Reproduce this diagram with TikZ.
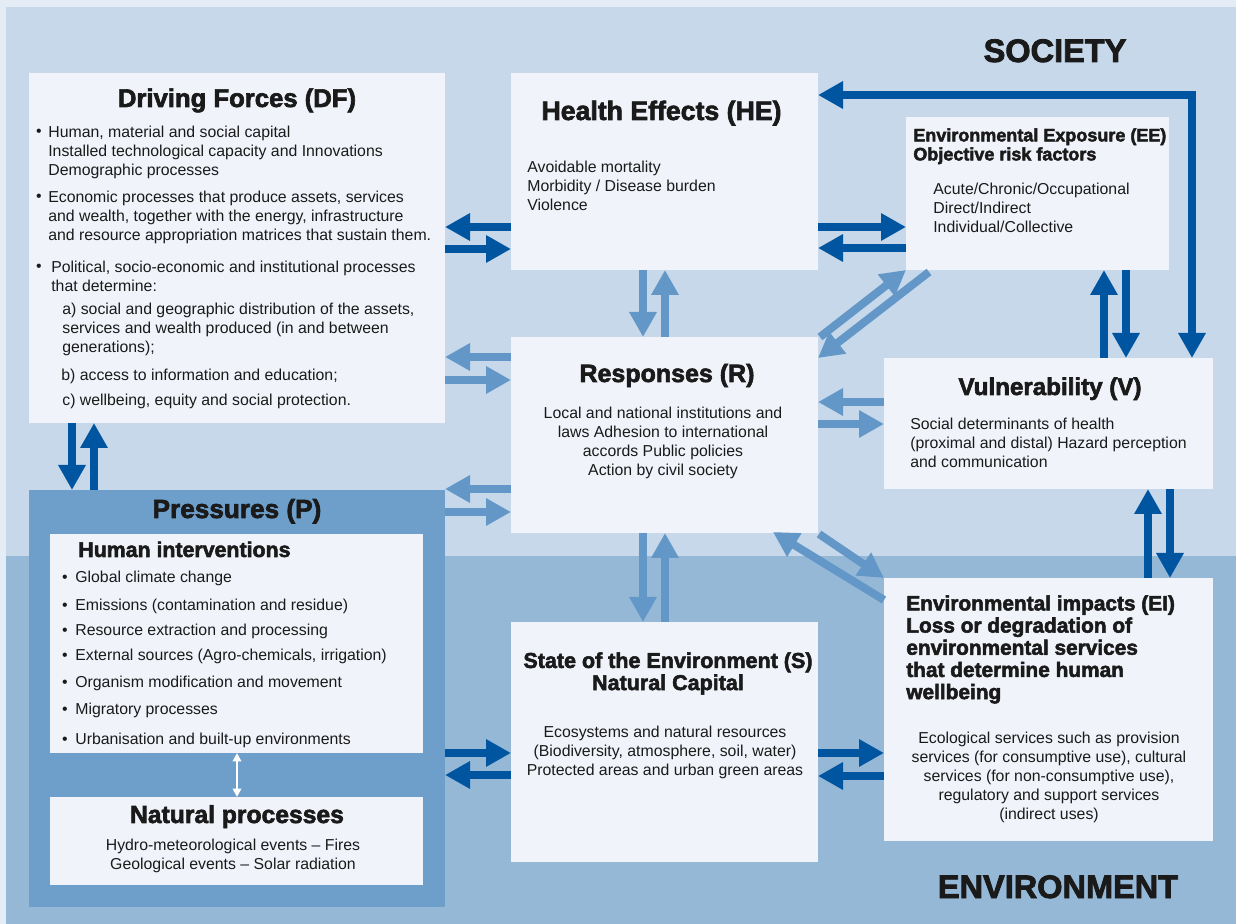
\documentclass[tikz,border=0pt]{standalone}
\usepackage{fontspec}
\setmainfont{Liberation Sans}
\newfontfamily\headfont[FakeBold=2.5]{Liberation Sans Bold}
\usetikzlibrary{arrows.meta,calc}

\definecolor{framebg}{RGB}{228,236,245}
\definecolor{societybg}{RGB}{198,216,234}
\definecolor{environbg}{RGB}{150,184,215}
\definecolor{boxbg}{RGB}{240,244,250}
\definecolor{pressbg}{RGB}{110,159,203}
\definecolor{darkblue}{RGB}{0,85,160}
\definecolor{lightblue}{RGB}{98,151,200}
\definecolor{inkgray}{RGB}{26,26,26}

\begin{document}
\begin{tikzpicture}[%
        x = 0.6pt, y = -0.6pt,
        line cap = butt,
        > = {Triangle[length=15pt, width=15.6pt]},
        box/.style = {fill = boxbg, inner sep = 0pt, outer sep = 0pt},
        banner/.style = {font = \headfont\fontsize{19.5}{22}\selectfont, text = inkgray, inner sep = 0pt},
        heading/.style = {font = \headfont\fontsize{#1}{17}\selectfont, text = inkgray, inner sep = 0pt},
        heading/.default = 14.5,
        subheading/.style = {font = \headfont\fontsize{#1}{13.3}\selectfont, text = inkgray, inner sep = 0pt},
        subheading/.default = 12.5,
        smallheading/.style = {font = \headfont\fontsize{10.8}{11.4}\selectfont, text = inkgray, inner sep = 0pt},
        body/.style = {font = \fontsize{9.5}{11.5}\selectfont, text = inkgray, inner sep = 0pt},
        darkarrow/.style = {draw = darkblue, line width = 4.8pt, ->},
        lightarrow/.style = {draw = lightblue, line width = 4.8pt, ->}
    ]

        % Background: outer frame, society band and environment band.
        \fill[framebg] (0,0) rectangle (1236,924);
        \fill[societybg] (6,7) rectangle (1236,556);
        \fill[environbg] (6,556) rectangle (1236,924);
        \useasboundingbox (0,0) rectangle (1236,924);

        % The boxes.
        \node[box, minimum width = 249.6pt, minimum height = 210pt] (df) at (237,248) {};
        \node[box, minimum width = 184.2pt, minimum height = 118.2pt] (he) at (664.5,171.5) {};
        \node[box, minimum width = 184.2pt, minimum height = 117.6pt] (r) at (664.5,435) {};
        \node[box, minimum width = 184.2pt, minimum height = 144pt] (s) at (664.5,742) {};
        \node[box, minimum width = 157.8pt, minimum height = 91.8pt] (ee) at (1037.5,193.5) {};
        \node[box, minimum width = 197.4pt, minimum height = 78.6pt] (v) at (1048.5,423.5) {};
        \node[box, minimum width = 197.4pt, minimum height = 157.8pt] (ei) at (1048.5,709.5) {};
        \node[box, fill = pressbg, minimum width = 249.6pt, minimum height = 250.2pt] (p) at (237,698.5) {};
        \node[box, minimum width = 223.8pt, minimum height = 131.4pt] (hi) at (236.5,643.5) {};
        \node[box, minimum width = 223.8pt, minimum height = 52.8pt] (np) at (236.5,841) {};

        % Band labels.
        \node[banner, anchor = base] (society) at (1055,62) {SOCIETY};
        \node[banner, anchor = base] (environment) at (1058,898) {ENVIRONMENT};

        % Driving forces.
        \node[heading = 15.4, anchor = base] (dftitle) at (237,107) {Driving Forces (DF)};
        \node[body, anchor = base] (dfdot1) at (39,137) {•};
        \node[body, align = left, anchor = north west] (dftext1) at (48,125.5)
            {Human, material and social capital\\Installed technological capacity and Innovations\\Demographic processes};
        \node[body, anchor = base] (dfdot2) at (39,202) {•};
        \node[body, align = left, anchor = north west] (dftext2) at (48,190.5)
            {Economic processes that produce assets, services\\and wealth, together with the energy, infrastructure\\and resource appropriation matrices that sustain them.};
        \node[body, anchor = base] (dfdot3) at (39,272) {•};
        \node[body, align = left, anchor = north west] (dftext3) at (51,260.5)
            {Political, socio-economic and institutional processes\\that determine:};
        \node[body, align = left, anchor = north west] (dftexta) at (62,302.5)
            {a) social and geographic distribution of the assets,\\services and wealth produced (in and between\\generations);};
        \node[body, anchor = base west] (dftextb) at (61,381) {b) access to information and education;};
        \node[body, anchor = base west] (dftextc) at (62,406) {c) wellbeing, equity and social protection.};

        % Health effects.
        \node[heading = 16, anchor = base] (hetitle) at (661.5,120) {Health Effects (HE)};
        \node[body, align = left, anchor = north west] (hetext) at (527,160.5)
            {Avoidable mortality\\Morbidity / Disease burden\\Violence};

        % Responses.
        \node[heading = 15, anchor = base] (rtitle) at (667,382) {Responses (R)};
        \node[body, align = center, anchor = north] (rtext) at (663,406.5)
            {Local and national institutions and\\laws Adhesion to international\\accords Public policies\\Action by civil society};

        % State of the environment.
        \node[subheading = 12.9, align = center, anchor = north] (stitle) at (668,652)
            {State of the Environment (S)\\Natural Capital};
        \node[body, align = center, anchor = north] (stext) at (665,725.5)
            {Ecosystems and natural resources\\(Biodiversity, atmosphere, soil, water)\\Protected areas and urban green areas};

        % Environmental exposure.
        \node[smallheading, align = left, anchor = north west] (eetitle) at (913,128)
            {Environmental Exposure (EE)\\Objective risk factors};
        \node[body, align = left, anchor = north west] (eetext) at (933,182.5)
            {Acute/Chronic/Occupational\\Direct/Indirect\\Individual/Collective};

        % Vulnerability.
        \node[heading, anchor = base] (vtitle) at (1050,395) {Vulnerability (V)};
        \node[body, align = left, anchor = north west] (vtext) at (910,417.5)
            {Social determinants of health\\(proximal and distal) Hazard perception\\and communication};

        % Environmental impacts.
        \node[subheading, align = left, anchor = north west] (eititle) at (906,595)
            {Environmental impacts (EI)\\Loss or degradation of\\environmental services\\that determine human\\wellbeing};
        \node[body, align = center, anchor = north] (eitext) at (1049,731.5)
            {Ecological services such as provision\\services (for consumptive use), cultural\\services (for non-consumptive use),\\regulatory and support services\\(indirect uses)};

        % Pressures.
        \node[heading = 15.7, anchor = base] (ptitle) at (237,518) {Pressures (P)};
        \node[heading = 12.8, anchor = base west] (hititle) at (78,557) {Human interventions};
        \foreach \y/\txt [count = \i] in {583/Global climate change,
                611/Emissions (contamination and residue),
                636/Resource extraction and processing,
                661/{External sources (Agro-chemicals, irrigation)},
                687/Organism modification and movement,
                715/Migratory processes,
                744/Urbanisation and built-up environments} {
            \node[body, anchor = base] (hidot\i) at (65,\y) {•};
            \node[body, anchor = base west] (hitem\i) at (75,\y) {\txt};
        }
        \node[heading = 14.8, anchor = base] (nptitle) at (237,823) {Natural processes};
        \node[body, align = center, anchor = north] (nptext) at (233,838.5)
            {Hydro-meteorological events – Fires\\Geological events – Solar radiation};
        \draw[white, line width = 1.2pt, {Triangle[length=5pt, width=5pt]}-{Triangle[length=5pt, width=5pt]}]
            (hi.south -| 237,0) to (np.north -| 237,0);

        % Dark arrows.
        \draw[darkarrow] (he.west |- 0,227) to (df.east |- 0,227);
        \draw[darkarrow] (df.east |- 0,249) to (he.west |- 0,249);
        \draw[darkarrow] (he.east |- 0,227) to (ee.west |- 0,227);
        \draw[darkarrow] (ee.west |- 0,248) to (he.east |- 0,248);
        \draw[darkarrow] (df.south -| 72,0) to (p.north -| 72,0);
        \draw[darkarrow] (p.north -| 94,0) to (df.south -| 94,0);
        \draw[darkarrow] (p.east |- 0,753) to (s.west |- 0,753);
        \draw[darkarrow] (s.west |- 0,775) to (p.east |- 0,775);
        \draw[darkarrow] (s.east |- 0,753) to (ei.west |- 0,753);
        \draw[darkarrow] (ei.west |- 0,776) to (s.east |- 0,776);
        \draw[darkarrow] (v.north -| 1104,0) to (ee.south -| 1104,0);
        \draw[darkarrow] (ee.south -| 1126,0) to (v.north -| 1126,0);
        \draw[darkarrow] (ei.north -| 1148,0) to (v.south -| 1148,0);
        \draw[darkarrow] (v.south -| 1170,0) to (ei.north -| 1170,0);
        \draw[darkarrow, <->, line join = miter] (he.east |- 0,95) -| (v.north -| 1192,0);

        % Light arrows.
        \draw[lightarrow] (he.south -| 643,0) to (r.north -| 643,0);
        \draw[lightarrow] (r.north -| 665,0) to (he.south -| 665,0);
        \draw[lightarrow] (r.south -| 643,0) to (s.north -| 643,0);
        \draw[lightarrow] (s.north -| 665,0) to (r.south -| 665,0);
        \draw[lightarrow] (r.west |- 0,357) to (df.east |- 0,357);
        \draw[lightarrow] (df.east |- 0,380) to (r.west |- 0,380);
        \draw[lightarrow] (r.west |- 0,489) to (p.east |- 0,489);
        \draw[lightarrow] (p.east |- 0,512) to (r.west |- 0,512);
        \draw[lightarrow] (v.west |- 0,402) to (r.east |- 0,402);
        \draw[lightarrow] (r.east |- 0,424) to (v.west |- 0,424);
        \draw[lightarrow] ($(r.north east)+(2,0)$) to (ee.south west);
        \draw[lightarrow] ($(ee.south west)+(23,2)$) to ($(r.north east)+(0,21)$);
        \draw[lightarrow] ($(ei.north west)+(0,22)$) to ($(r.south east)+(-45,-1)$);
        \draw[lightarrow] ($(r.south east)+(1,1)$) to (ei.north west);
    \end{tikzpicture}
\end{document}
